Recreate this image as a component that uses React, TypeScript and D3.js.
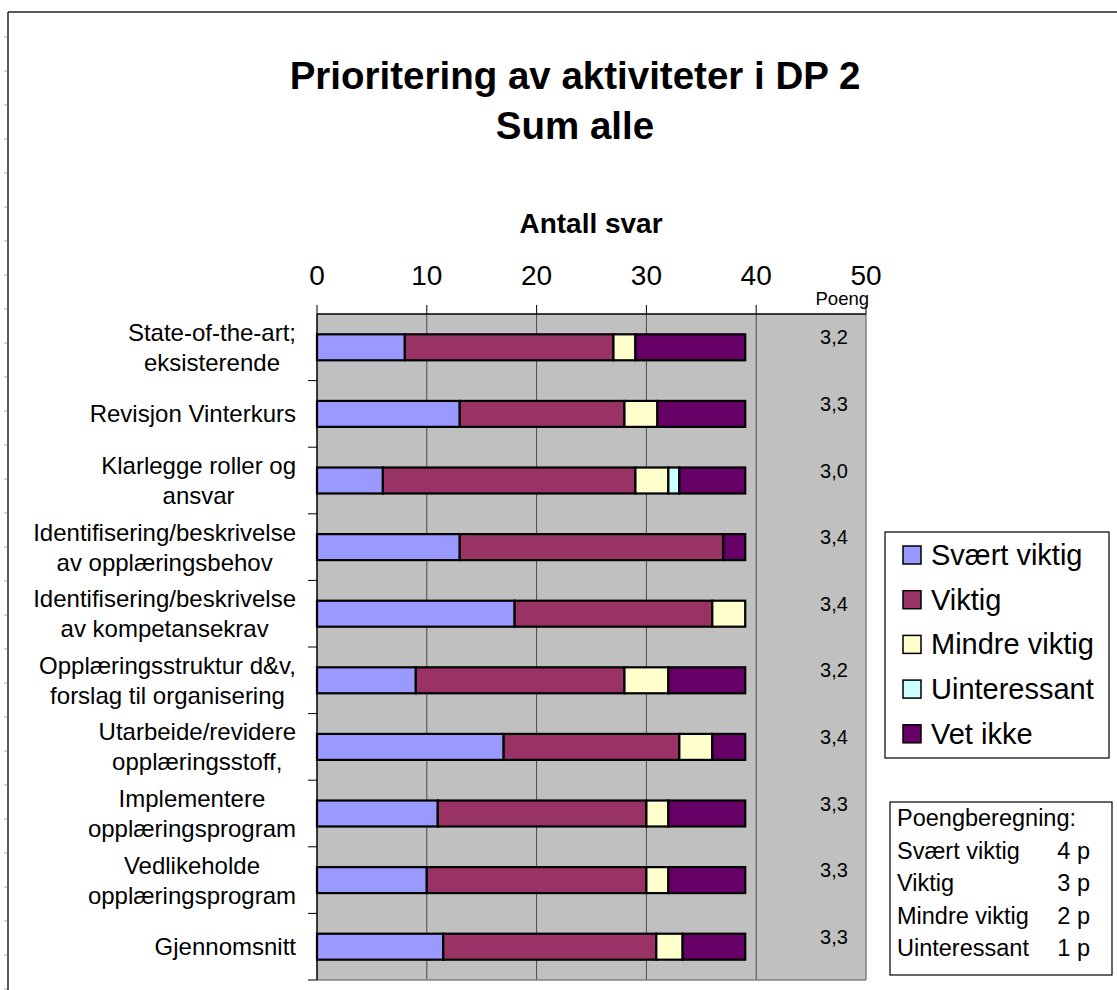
import * as d3 from "d3";

const FONT = "'Liberation Sans', Arial, sans-serif";
const W = 1117;
const H = 990;

// plot frame (pixel layout)
const PLOT = { LEFT: 317, RIGHT: 866, TOP: 314, BOTTOM: 980 };

const categories = [
  "State-of-the-art;\neksisterende",
  "Revisjon Vinterkurs",
  "Klarlegge roller og\nansvar",
  "Identifisering/beskrivelse\nav opplæringsbehov",
  "Identifisering/beskrivelse\nav kompetansekrav",
  "Opplæringsstruktur d&v,\nforslag til organisering",
  "Utarbeide/revidere\nopplæringsstoff,",
  "Implementere\nopplæringsprogram",
  "Vedlikeholde\nopplæringsprogram",
  "Gjennomsnitt",
];

const svaertViktig = [8, 13, 6, 13, 18, 9, 17, 11, 10, 11.5];
const viktig = [19, 15, 23, 24, 18, 19, 16, 19, 20, 19.4];
const mindreViktig = [2, 3, 3, 0, 3, 4, 3, 2, 2, 2.4];
const uinteressant = [0, 0, 1, 0, 0, 0, 0, 0, 0, 0];
const vetIkke = [10, 8, 6, 2, 0, 7, 3, 7, 7, 5.7];

const poeng = ["3,2", "3,3", "3,0", "3,4", "3,4", "3,2", "3,4", "3,3", "3,3", "3,3"];

const xTicks = [0, 10, 20, 30, 40, 50];

const seriesNames = ["Svært viktig", "Viktig", "Mindre viktig", "Uinteressant", "Vet ikke"];
const seriesColors = ["#9999FF", "#993366", "#FFFFCC", "#CCFFFF", "#660066"];
const seriesValues = [svaertViktig, viktig, mindreViktig, uinteressant, vetIkke];

const scoreTitle = "Poengberegning:";
const scoreLabels = ["Svært viktig", "Viktig", "Mindre viktig", "Uinteressant"];
const scorePoints = ["4 p", "3 p", "2 p", "1 p"];

// canvas for measuring label widths
const measureCtx = document.createElement("canvas").getContext("2d")!;
function textWidth(s: string, size: number) {
  measureCtx.font = `${size}px 'Liberation Sans', Arial, sans-serif`;
  return measureCtx.measureText(s).width;
}

export default function App() {
  const x = d3.scaleLinear().domain([0, 50]).range([PLOT.LEFT, PLOT.RIGHT]);
  const y = d3
    .scaleBand<string>()
    .domain(categories)
    .range([PLOT.TOP, PLOT.BOTTOM]);
  const bw = y.bandwidth();
  const barH = bw * 0.39;

  const rows = categories.map((c, i) => {
    const r: any = { cat: c };
    seriesNames.forEach((s, k) => (r[s] = seriesValues[k][i]));
    return r;
  });
  const stacked = d3.stack<any>().keys(seriesNames)(rows);

  const labelSize = 24;
  const labelRight = 296;
  const lineGap = 30;

  // left border ruler marks
  const rulerMarks = d3.range(37, H, 34);

  return (
    <svg
      width={W}
      height={H}
      style={{ position: "absolute", left: 0, top: 0, background: "#fff" }}
      fontFamily={FONT}
    >
      {/* outer chart border */}
      <line x1={8} y1={12} x2={W} y2={12} stroke="#222" strokeWidth={1.5} />
      <line x1={8} y1={12} x2={8} y2={H} stroke="#222" strokeWidth={1.5} />
      {rulerMarks.map((m) => (
        <line key={m} x1={4} x2={7} y1={m} y2={m} stroke="#aaa" strokeWidth={1} />
      ))}

      {/* titles */}
      <text x={575} y={89} textAnchor="middle" fontSize={38.5} fontWeight="bold">
        Prioritering av aktiviteter i DP 2
      </text>
      <text x={575} y={139} textAnchor="middle" fontSize={38.5} fontWeight="bold">
        Sum alle
      </text>
      <text x={591} y={233} textAnchor="middle" fontSize={28} fontWeight="bold">
        Antall svar
      </text>

      {/* plot background */}
      <rect
        x={PLOT.LEFT}
        y={PLOT.TOP}
        width={PLOT.RIGHT - PLOT.LEFT}
        height={PLOT.BOTTOM - PLOT.TOP}
        fill="#C0C0C0"
      />
      {xTicks.slice(1, -1).map((t) => (
        <line
          key={t}
          x1={x(t)}
          x2={x(t)}
          y1={PLOT.TOP}
          y2={PLOT.BOTTOM}
          stroke="#4a4a4a"
          strokeWidth={1}
        />
      ))}
      <line x1={PLOT.RIGHT} x2={PLOT.RIGHT} y1={PLOT.TOP} y2={PLOT.BOTTOM} stroke="#808080" strokeWidth={1.5} />
      <line x1={PLOT.LEFT} x2={PLOT.RIGHT} y1={PLOT.BOTTOM} y2={PLOT.BOTTOM} stroke="#808080" strokeWidth={1.5} />

      {/* top axis */}
      <line x1={PLOT.LEFT} x2={PLOT.RIGHT} y1={PLOT.TOP} y2={PLOT.TOP} stroke="#000" strokeWidth={1.5} />
      {xTicks.map((t) => (
        <g key={t}>
          <line x1={x(t)} x2={x(t)} y1={PLOT.TOP - 9} y2={PLOT.TOP} stroke="#000" strokeWidth={1} />
          <text x={x(t)} y={285} textAnchor="middle" fontSize={28}>
            {t}
          </text>
        </g>
      ))}
      <text x={869} y={305} textAnchor="end" fontSize={18.5}>
        Poeng
      </text>

      {/* left axis */}
      <line x1={PLOT.LEFT} x2={PLOT.LEFT} y1={PLOT.TOP} y2={PLOT.BOTTOM} stroke="#000" strokeWidth={1.5} />
      {categories.map((c) => (
        <line
          key={c}
          x1={PLOT.LEFT - 9}
          x2={PLOT.LEFT}
          y1={y(c)! + bw}
          y2={y(c)! + bw}
          stroke="#000"
          strokeWidth={1}
        />
      ))}

      {/* stacked bars */}
      {stacked.map((s, k) => (
        <g key={s.key} fill={seriesColors[k]}>
          {s.map((d, i) =>
            d[1] - d[0] > 0 ? (
              <rect
                key={i}
                x={x(d[0])}
                y={y(categories[i])! + (bw - barH) / 2}
                width={x(d[1]) - x(d[0])}
                height={barH}
                stroke="#000"
                strokeWidth={2.2}
              />
            ) : null
          )}
        </g>
      ))}

      {/* category labels */}
      {categories.map((c) => {
        const lines = c.split("\n");
        const maxW = d3.max(lines, (l) => textWidth(l, labelSize))!;
        const cx = labelRight - maxW / 2;
        const cy = y(c)! + bw / 2;
        return (
          <g key={c}>
            {lines.map((l, j) => (
              <text
                key={j}
                x={cx}
                y={cy + (j - (lines.length - 1) / 2) * lineGap + 8.5}
                textAnchor="middle"
                fontSize={labelSize}
              >
                {l}
              </text>
            ))}
          </g>
        );
      })}

      {/* score values */}
      {categories.map((c, i) => (
        <text key={c} x={834} y={y(c)! + bw / 2 - 3} textAnchor="middle" fontSize={20}>
          {poeng[i]}
        </text>
      ))}

      {/* legend */}
      <rect x={885} y={532} width={224} height={226} fill="#fff" stroke="#000" strokeWidth={1.2} />
      {seriesNames.map((s, k) => {
        const cy = 555 + k * 44.7;
        return (
          <g key={s}>
            <rect x={903} y={cy - 9} width={18} height={18} fill={seriesColors[k]} stroke="#000" strokeWidth={1.5} />
            <text x={931} y={cy + 10} fontSize={29}>
              {s}
            </text>
          </g>
        );
      })}

      {/* scoring box */}
      <rect x={890} y={802} width={222} height={173} fill="#fff" stroke="#000" strokeWidth={1.2} />
      <text x={897} y={826} fontSize={23.5}>
        {scoreTitle}
      </text>
      {scoreLabels.map((s, k) => (
        <g key={s}>
          <text x={897} y={859 + k * 32.3} fontSize={23.5}>
            {s}
          </text>
          <text x={1090} y={859 + k * 32.3} textAnchor="end" fontSize={23.5}>
            {scorePoints[k]}
          </text>
        </g>
      ))}
    </svg>
  );
}
